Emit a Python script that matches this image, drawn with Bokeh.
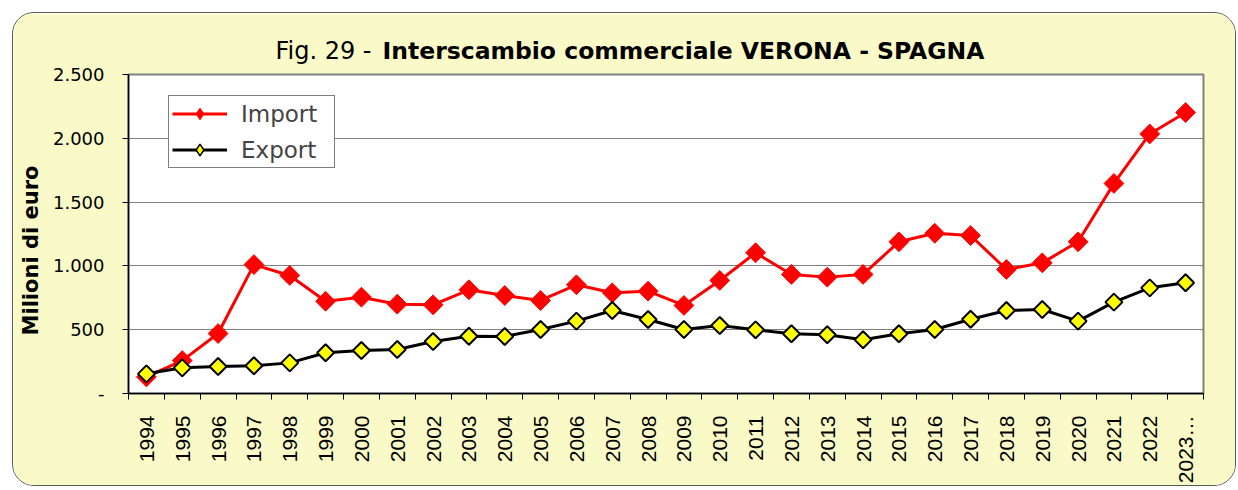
import numpy as np
from bokeh.plotting import figure
from bokeh.models import ColumnDataSource, FixedTicker, Label, Legend, LegendItem, Range1d
from bokeh.embed import file_html
from bokeh.resources import INLINE

# ---- data ----
years = list(range(1994, 2024))
year_labels = [str(y) for y in years[:-1]] + ["2023…"]
import_vals = [130, 258, 470, 1010, 925, 723, 755, 700, 695, 813, 768, 729, 852, 789, 802,
               690, 886, 1103, 933, 912, 933, 1189, 1256, 1238, 972, 1024, 1189, 1646, 2034, 2202]
export_vals = [154, 201, 212, 217, 240, 319, 337, 345, 407, 449, 447, 502, 567, 650, 580,
               502, 533, 499, 468, 460, 421, 468, 502, 582, 650, 658, 567, 716, 828, 868]
y_ticks = [0, 500, 1000, 1500, 2000, 2500]
y_tick_labels = ["-", "500", "1.000", "1.500", "2.000", "2.500"]
title_normal = "Fig. 29 -"
title_bold = "Interscambio commerciale VERONA - SPAGNA"
y_title = "Milioni di euro"
series_names = ["Import", "Export"]

src = ColumnDataSource(dict(x=years, imp=import_vals, exp=export_vals))

BG = "#FAFAC8"
p = figure(width=1224, height=474, output_backend="svg", toolbar_location=None,
           x_range=Range1d(years[0] - 0.5, years[-1] + 0.5), y_range=Range1d(0, 2500),
           min_border_left=115, min_border_right=34, min_border_top=61, min_border_bottom=94,
           background_fill_color="white", border_fill_color=BG,
           outline_line_color="#808080", outline_line_width=2,
           styles={"margin-left": "12px", "margin-top": "12px", "border": "1px solid #5a5a5a",
                   "border-radius": "22px", "overflow": "hidden"})

# axes
xa = p.xaxis[0]
xa.ticker = FixedTicker(ticks=years, minor_ticks=[y - 0.5 for y in years] + [years[-1] + 0.5])
xa.major_label_overrides = {y: lab for y, lab in zip(years, year_labels)}
xa.major_label_orientation = np.pi / 2
xa.major_tick_line_color = None
xa.major_tick_out = 0
xa.major_tick_in = 0
xa.minor_tick_line_color = "black"
xa.minor_tick_in = 0
xa.minor_tick_out = 6
xa.major_label_standoff = 16
xa.major_label_text_font = "Liberation Sans"
xa.major_label_text_font_size = "21px"
xa.major_label_text_color = "black"
xa.axis_line_color = "black"
xa.axis_line_width = 1.5

ya = p.yaxis[0]
ya.ticker = FixedTicker(ticks=y_ticks, minor_ticks=[])
ya.major_label_overrides = {v: lab for v, lab in zip(y_ticks, y_tick_labels)}
ya.major_tick_in = 0
ya.major_tick_out = 6
ya.major_tick_line_color = "black"
ya.minor_tick_line_color = None
ya.major_label_standoff = 18
ya.major_label_text_font = "DejaVu Sans"
ya.major_label_text_font_size = "18px"
ya.major_label_text_color = "black"
ya.axis_line_color = "black"
ya.axis_line_width = 1.5

p.xgrid.grid_line_color = None
p.ygrid.grid_line_color = "#808080"
p.ygrid.grid_line_width = 1

# series
r_imp_l = p.line("x", "imp", source=src, line_color="#FF0000", line_width=3)
r_imp_lg = p.scatter("x", "imp", source=src, marker="diamond", size=0,
                     fill_color="#FF0000", line_color="#FF0000", line_width=1)
r_imp_m = p.scatter("x", "imp", source=src, marker="square", angle=np.pi / 4, size=14,
                    fill_color="#FF0000", line_color="#FF0000", line_width=1)
r_exp_l = p.line("x", "exp", source=src, line_color="black", line_width=3)
r_exp_lg = p.scatter("x", "exp", source=src, marker="diamond", size=0,
                     fill_color="#FFFF00", line_color="black", line_width=1.5)
r_exp_m = p.scatter("x", "exp", source=src, marker="square", angle=np.pi / 4, size=12,
                    fill_color="#FFFF00", line_color="black", line_width=2)

legend = Legend(items=[LegendItem(label=series_names[0], renderers=[r_imp_l, r_imp_lg]),
                       LegendItem(label=series_names[1], renderers=[r_exp_l, r_exp_lg])],
                location=(40, 225), margin=0, padding=3, spacing=7,
                glyph_width=55, glyph_height=29, label_standoff=14, label_width=90,
                label_text_font="DejaVu Sans", label_text_font_size="23px",
                border_line_color="black", border_line_width=1,
                background_fill_color="white", background_fill_alpha=1)
p.add_layout(legend, "center")

# title (mixed weight) in the top panel, y title in the left panel
p.add_layout(Label(x=243, y=24, x_units="screen", y_units="screen", text=title_normal,
                   text_font="DejaVu Sans", text_font_size="24px", text_align="right",
                   text_baseline="middle", text_color="black"), "above")
p.add_layout(Label(x=254, y=-4, x_units="screen", y_units="screen", text=title_bold,
                   text_font="DejaVu Sans", text_font_style="bold", text_font_size="23.5px",
                   text_align="left", text_baseline="middle", text_color="black"), "above")
p.add_layout(Label(x=5, y=143, x_units="screen", y_units="screen", text=y_title,
                   angle=np.pi / 2, text_font="DejaVu Sans", text_font_style="bold",
                   text_font_size="21px", text_align="center", text_baseline="middle",
                   text_color="black"), "left")

open("out.html", "w").write(file_html(p, INLINE))
